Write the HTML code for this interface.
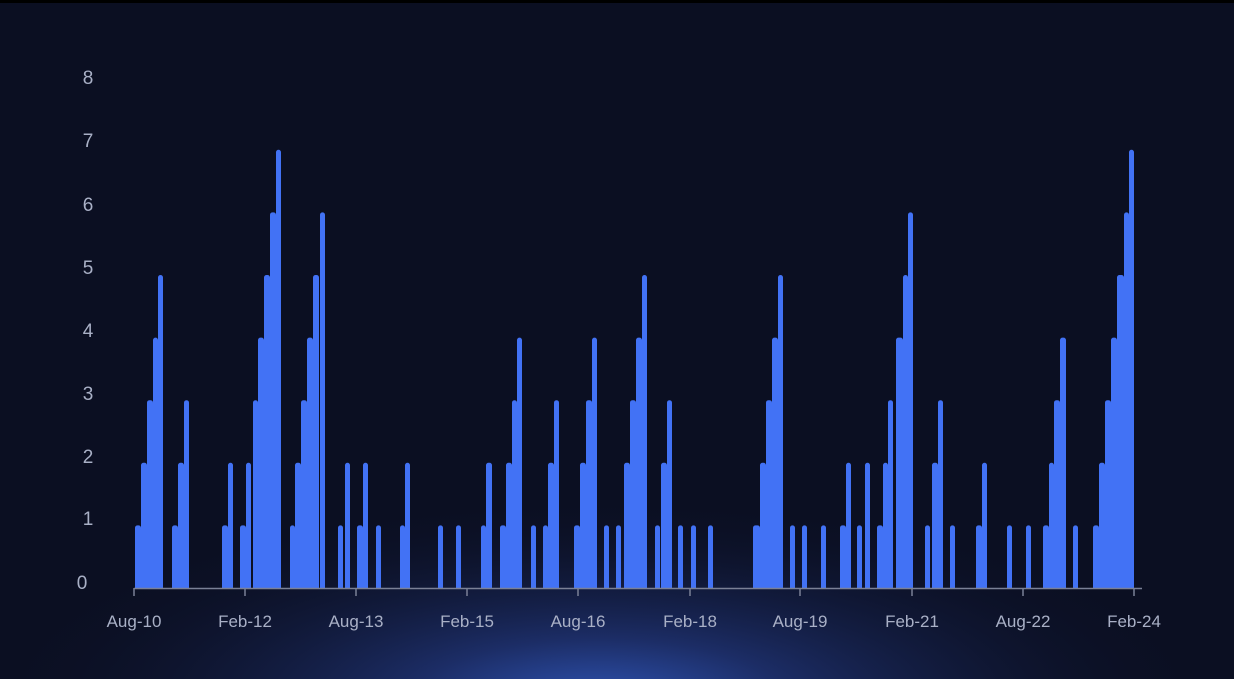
<!DOCTYPE html><html><head><style>
html,body{margin:0;padding:0;width:1234px;height:679px;overflow:hidden;background:#0b0f22}
</style></head><body>
<svg width="1234" height="679" viewBox="0 0 1234 679" xmlns="http://www.w3.org/2000/svg">
<defs>
<radialGradient id="g" cx="600" cy="700" r="620" gradientUnits="userSpaceOnUse" gradientTransform="translate(600 700) scale(1 0.33) translate(-600 -700)">
<stop offset="0" stop-color="#2e52b0"/><stop offset="0.3" stop-color="#1c2d66"/><stop offset="1" stop-color="#0b0f22" stop-opacity="0"/>
</radialGradient>
<clipPath id="c"><rect x="0" y="0" width="1234" height="588"/></clipPath>
</defs>
<rect width="1234" height="679" fill="#0b0f22"/>
<rect width="1234" height="679" fill="url(#g)"/>
<rect width="1234" height="3" fill="#000"/>
<g font-family="Liberation Sans, sans-serif" font-size="19" fill="#a9b0c6" text-anchor="middle">
<text x="88" y="84">8</text><text x="88" y="147">7</text><text x="88" y="211">6</text><text x="88" y="274">5</text><text x="88" y="337">4</text><text x="88" y="400">3</text><text x="88" y="463">2</text><text x="88" y="525">1</text><text x="82" y="589">0</text>
</g>
<g font-family="Liberation Sans, sans-serif" font-size="17" fill="#a9b0c6" text-anchor="middle">
<text x="134" y="627">Aug-10</text><text x="245" y="627">Feb-12</text><text x="356" y="627">Aug-13</text><text x="467" y="627">Feb-15</text><text x="578" y="627">Aug-16</text><text x="690" y="627">Feb-18</text><text x="800" y="627">Aug-19</text><text x="912" y="627">Feb-21</text><text x="1023" y="627">Aug-22</text><text x="1134" y="627">Feb-24</text>
</g>
<g id="bars" fill="#4272f5" clip-path="url(#c)"></g>
<g stroke="#7a8096" stroke-width="1.5">
<line x1="134" y1="588.5" x2="1142" y2="588.5"/>
<line x1="134" y1="588" x2="134" y2="596"/><line x1="245" y1="588" x2="245" y2="596"/><line x1="356" y1="588" x2="356" y2="596"/><line x1="467" y1="588" x2="467" y2="596"/><line x1="578" y1="588" x2="578" y2="596"/><line x1="690" y1="588" x2="690" y2="596"/><line x1="800" y1="588" x2="800" y2="596"/><line x1="912" y1="588" x2="912" y2="596"/><line x1="1023" y1="588" x2="1023" y2="596"/><line x1="1134" y1="588" x2="1134" y2="596"/>
</g>
</svg>
<script>
var d=[135,6,1,141,6,2,147,6,3,153,5,4,158,5,5,
172,6,1,178,6,2,184,5,3,
222,6,1,228,5,2,240,6,1,246,5,2,
253,5,3,258,6,4,264,6,5,270,6,6,276,5,7,
290,5,1,295,6,2,301,6,3,307,6,4,313,6,5,320,5,6,
338,5,1,345,5,2,357,6,1,363,5,2,376,5,1,400,5,1,405,5,2,
438,5,1,456,5,1,481,5,1,486,6,2,
500,6,1,506,6,2,512,5,3,517,5,4,531,5,1,
543,5,1,548,6,2,554,5,3,
574,6,1,580,6,2,586,6,3,592,5,4,604,5,1,616,5,1,
624,6,2,630,6,3,636,6,4,642,5,5,
655,5,1,661,6,2,667,5,3,678,5,1,691,5,1,708,5,1,
753,7,1,760,6,2,766,6,3,772,6,4,778,5,5,
790,5,1,802,5,1,821,5,1,840,6,1,846,5,2,857,5,1,865,5,2,
877,6,1,883,5,2,888,5,3,896,7,4,903,5,5,908,5,6,
925,5,1,932,6,2,938,5,3,950,5,1,976,6,1,982,5,2,1007,5,1,1026,5,1,
1043,6,1,1049,5,2,1054,6,3,1060,6,4,1073,5,1,
1093,6,1,1099,6,2,1105,6,3,1111,6,4,1117,7,5,1124,5,6,1129,5,7];
var g=document.getElementById('bars'),s='';
for(var i=0;i<d.length;i+=3){var h=d[i+2]*62.6;s+='<rect x="'+d[i]+'" y="'+(588-h)+'" width="'+d[i+1]+'" height="'+(h+6)+'" rx="2.5"/>';}
g.innerHTML=s;
</script>
</body></html>
